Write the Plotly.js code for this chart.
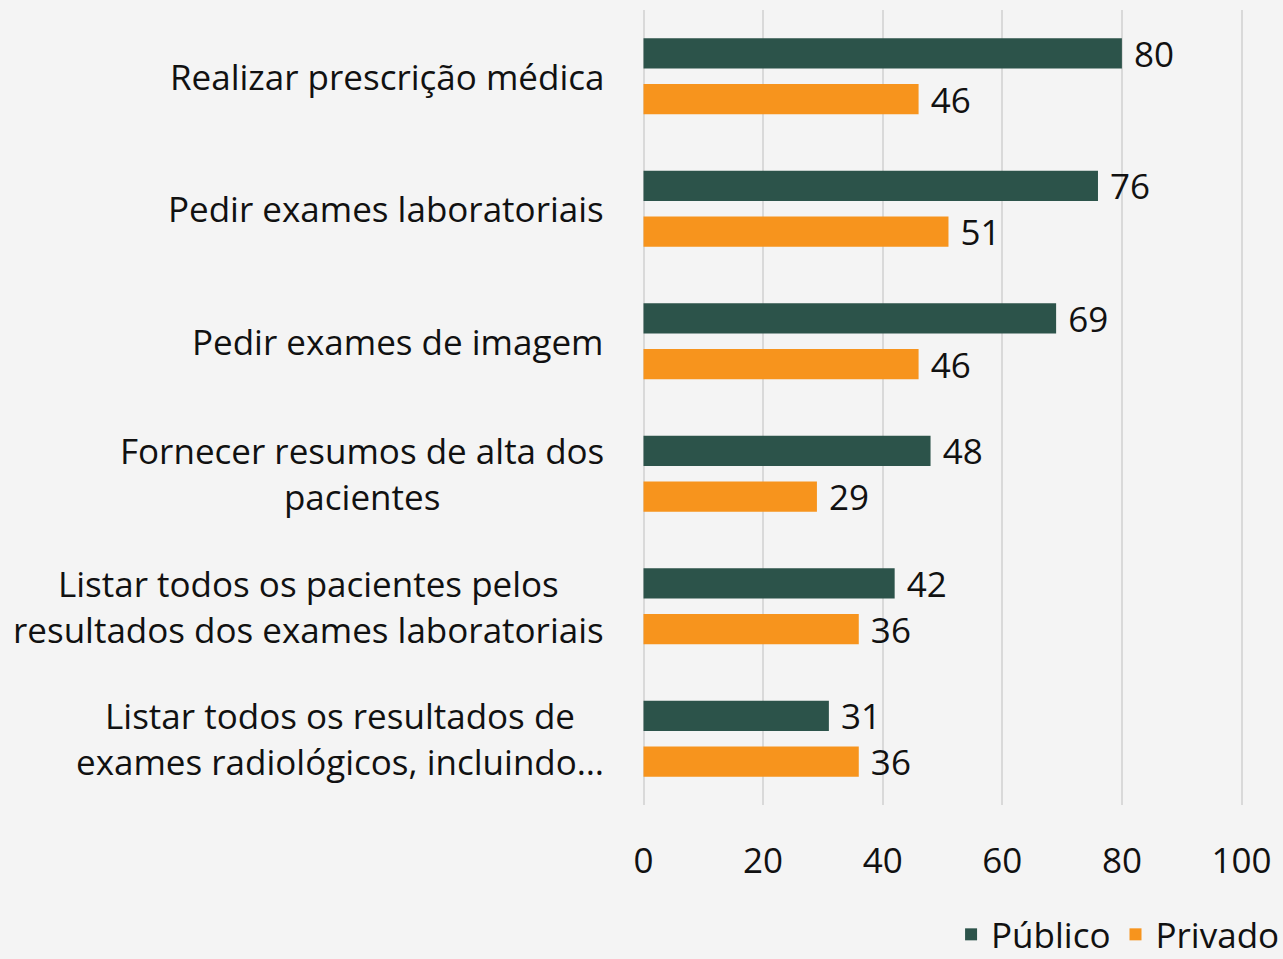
<!DOCTYPE html>
<html>
<head>
<meta charset="utf-8">
<script src="https://cdn.plot.ly/plotly-3.0.1.min.js"></script>
<style>
  html, body { margin: 0; padding: 0; background: #f4f4f4; }
  #chart { width: 1283px; height: 959px; }
</style>
</head>
<body>
<div id="chart"></div>
<script>
// categories, top to bottom; each entry is the list of lines of its label
const categories = [
  'Realizar prescrição médica',
  'Pedir exames laboratoriais',
  'Pedir exames de imagem',
  'Fornecer resumos de alta dos pacientes',
  'Listar todos os pacientes pelos resultados dos exames laboratoriais',
  'Listar todos os resultados de exames radiológicos, incluindo…'
];
const labelLines = [
  ['Realizar prescrição médica'],
  ['Pedir exames laboratoriais'],
  ['Pedir exames de imagem'],
  ['Fornecer resumos de alta dos', 'pacientes'],
  ['Listar todos os pacientes pelos', 'resultados dos exames laboratoriais'],
  ['Listar todos os resultados de', 'exames radiológicos, incluindo…']
];
const publico = [80, 76, 69, 48, 42, 31];
const privado = [46, 51, 46, 29, 36, 36];
const xTicks = [0, 20, 40, 60, 80, 100];

const font = 'Open Sans, Noto Sans, sans-serif';
const ink = '#111111';
const fs = 35;

const bar = (name, vals, color) => ({
  type: 'bar', orientation: 'h', name,
  y: categories, x: vals,
  marker: { color },
  text: vals, texttemplate: '\u00a0%{x}', textposition: 'outside',
  constraintext: 'none',
  textfont: { family: font, size: fs, color: ink },
  cliponaxis: false
});

const traces = [
  bar('Público', publico, '#2c534a'),
  bar('Privado', privado, '#f7941d')
];

const annotations = labelLines.map((lines, i) => ({
  xref: 'paper', yref: 'y', x: 0, y: categories[i],
  xanchor: 'right', yanchor: 'middle', xshift: -36,
  text: lines.join('<br>'), align: 'center', showarrow: false,
  font: { family: font, size: fs, color: ink }
}));

// range padded a hair so the gridlines at 0 and 100 are not dropped
const layout = {
  width: 1283, height: 959,
  paper_bgcolor: '#f4f4f4', plot_bgcolor: '#f4f4f4',
  margin: { l: 642, r: 40, t: 10, b: 154, autoexpand: false },
  font: { family: font, color: ink },
  barmode: 'group', bargap: 0.31, bargroupgap: 0.34,
  showlegend: true,
  legend: {
    orientation: 'h', x: 1.07, xanchor: 'right', y: -0.163, yanchor: 'middle',
    font: { family: font, size: fs, color: ink }, bgcolor: 'rgba(0,0,0,0)',
    traceorder: 'normal'
  },
  xaxis: {
    range: [-0.25, 100.25], tickvals: xTicks, ticks: '', showline: false,
    showgrid: true, gridcolor: '#d9d9d9', gridwidth: 2, zeroline: false,
    tickfont: { family: font, size: fs, color: ink }, ticklabelstandoff: 32,
    fixedrange: true
  },
  yaxis: {
    type: 'category', autorange: 'reversed', showticklabels: false,
    showgrid: false, zeroline: false, showline: false, ticks: '', fixedrange: true
  },
  annotations
};

Plotly.newPlot('chart', traces, layout, { displayModeBar: false, staticPlot: true });
</script>
</body>
</html>
